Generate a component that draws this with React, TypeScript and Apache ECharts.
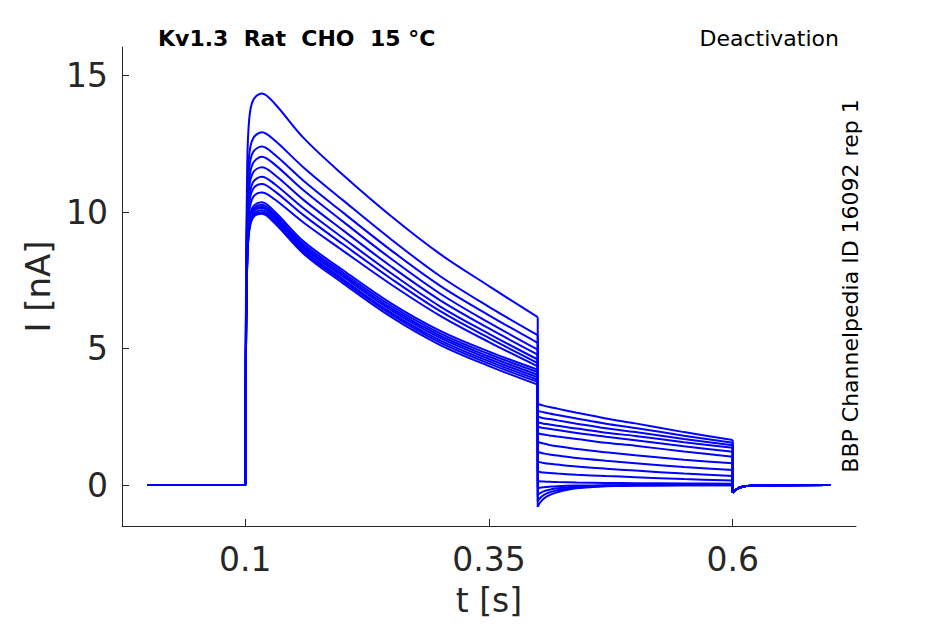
import React, { useEffect, useRef } from "react";
import * as echarts from "echarts";

// ---- data ----
const baselineTimes = [0, 0.1];
const baselineCurrents = [0, 0];

const activationTimes = [0.1006, 0.102, 0.104, 0.108, 0.117, 0.13, 0.16, 0.2, 0.25, 0.3, 0.35, 0.4];
const activationCurrents = [
  [6.5, 11.8, 13.4, 14.1, 14.35, 13.98, 12.71, 11.37, 9.84, 8.46, 7.29, 6.15],
  [5.9, 10.6, 12.1, 12.7, 12.93, 12.63, 11.63, 10.44, 8.99, 7.65, 6.53, 5.49],
  [5.6, 10.2, 11.6, 12.2, 12.4, 12.11, 11.14, 9.99, 8.59, 7.3, 6.22, 5.21],
  [5.4, 9.9, 11.2, 11.8, 12.03, 11.75, 10.79, 9.66, 8.28, 7.01, 5.95, 4.96],
  [5.2, 9.6, 10.9, 11.45, 11.64, 11.37, 10.44, 9.34, 8.0, 6.77, 5.74, 4.78],
  [5.1, 9.3, 10.5, 11.1, 11.3, 11.03, 10.13, 9.06, 7.75, 6.54, 5.54, 4.6],
  [5.0, 9.0, 10.3, 10.85, 11.03, 10.77, 9.88, 8.83, 7.55, 6.37, 5.39, 4.47],
  [4.8, 8.8, 10.0, 10.55, 10.72, 10.47, 9.61, 8.59, 7.34, 6.2, 5.24, 4.35],
  [4.7, 8.5, 9.7, 10.2, 10.36, 10.02, 8.92, 7.88, 6.65, 5.65, 4.89, 4.23],
  [4.6, 8.4, 9.6, 10.1, 10.27, 9.93, 8.83, 7.79, 6.56, 5.56, 4.8, 4.14],
  [4.6, 8.4, 9.5, 10.05, 10.2, 9.86, 8.75, 7.71, 6.47, 5.47, 4.71, 4.04],
  [4.6, 8.3, 9.5, 10.0, 10.15, 9.81, 8.69, 7.64, 6.4, 5.39, 4.62, 3.95],
  [4.5, 8.3, 9.4, 9.9, 10.07, 9.73, 8.61, 7.55, 6.31, 5.3, 4.53, 3.86],
  [4.5, 8.2, 9.35, 9.85, 10.0, 9.66, 8.54, 7.48, 6.24, 5.22, 4.45, 3.78],
  [4.5, 8.2, 9.3, 9.8, 9.94, 9.6, 8.47, 7.4, 6.15, 5.13, 4.36, 3.68],
];

const tailTimes = [0.4, 0.402, 0.406, 0.412, 0.42, 0.44, 0.47, 0.5, 0.55, 0.6];
const tailCurrents = [
  [2.98, 2.95, 2.91, 2.86, 2.8, 2.65, 2.44, 2.26, 1.94, 1.65],
  [2.73, 2.7, 2.67, 2.62, 2.57, 2.44, 2.25, 2.09, 1.81, 1.55],
  [2.51, 2.49, 2.45, 2.42, 2.37, 2.25, 2.08, 1.94, 1.69, 1.46],
  [2.3, 2.28, 2.25, 2.22, 2.17, 2.07, 1.92, 1.8, 1.57, 1.37],
  [2.14, 2.12, 2.09, 2.06, 2.02, 1.91, 1.77, 1.64, 1.42, 1.22],
  [1.9, 1.88, 1.85, 1.82, 1.78, 1.69, 1.55, 1.44, 1.23, 1.04],
  [1.59, 1.56, 1.52, 1.47, 1.42, 1.32, 1.2, 1.09, 0.93, 0.8],
  [1.22, 1.19, 1.16, 1.12, 1.08, 0.99, 0.89, 0.8, 0.66, 0.55],
  [0.86, 0.84, 0.81, 0.78, 0.75, 0.68, 0.6, 0.53, 0.42, 0.33],
  [0.49, 0.48, 0.46, 0.44, 0.42, 0.38, 0.33, 0.29, 0.22, 0.17],
  [0.15, 0.14, 0.13, 0.12, 0.11, 0.095, 0.08, 0.07, 0.06, 0.05],
  [-0.12, -0.1, -0.08, -0.06, -0.04, -0.02, -0.01, 0, 0, 0],
  [-0.37, -0.31, -0.23, -0.17, -0.12, -0.05, -0.02, -0.01, 0, 0],
  [-0.59, -0.49, -0.37, -0.27, -0.19, -0.09, -0.03, -0.015, -0.01, -0.01],
  [-0.8, -0.66, -0.5, -0.37, -0.26, -0.12, -0.04, -0.02, -0.01, -0.01],
];

const offTimes = [0.6, 0.602, 0.606, 0.61, 0.615, 0.63, 0.7];
const offCurrents = [-0.27, -0.2, -0.11, -0.06, -0.03, -0.005, 0];

const xTicks = [0.1, 0.35, 0.6];
const yTicks = [0, 5, 10, 15];

const titleText = "Kv1.3  Rat  CHO  15 \u00B0C";
const protocolText = "Deactivation";
const sourceText = "BBP Channelpedia ID 16092 rep 1";

const FONT = "DejaVu Sans";
const AXIS_COLOR = "#262626";
const TRACE_COLOR = "#0000ff";

export default function App() {
  const ref = useRef<HTMLDivElement>(null);

  useEffect(() => {
    if (!ref.current) return;
    const chart = echarts.init(ref.current, undefined, { renderer: "svg" });

    const series: any[] = [];
    activationCurrents.forEach((act, i) => {
      const tail = tailCurrents[i];
      const last = act.length - 1;
      // straight pieces: baseline + onset, step at 0.4 s, step at 0.6 s and the off relaxation
      const straight: any[] = [];
      baselineTimes.forEach((t, k) => straight.push([t, baselineCurrents[k]]));
      straight.push([activationTimes[0], act[0]]);
      straight.push(null);
      straight.push([activationTimes[last], act[last]]);
      straight.push([tailTimes[0], tail[0]]);
      straight.push(null);
      straight.push([tailTimes[tail.length - 1], tail[tail.length - 1]]);
      offTimes.forEach((t, k) => straight.push([t, offCurrents[k]]));

      // smooth pieces: activation/inactivation and tail currents
      const curved: any[] = [];
      activationTimes.forEach((t, k) => curved.push([t, act[k]]));
      curved.push(null);
      tailTimes.forEach((t, k) => curved.push([t, tail[k]]));

      const common = {
        type: "line",
        showSymbol: false,
        symbol: "none",
        connectNulls: false,
        lineStyle: { color: TRACE_COLOR, width: 2 },
        itemStyle: { color: TRACE_COLOR },
        silent: true,
      };
      series.push({ ...common, data: straight, smooth: false });
      series.push({ ...common, data: curved, smooth: 0.35 });
    });

    chart.setOption({
      animation: false,
      backgroundColor: "#ffffff",
      textStyle: { fontFamily: FONT },
      grid: { left: 122, right: 89, top: 47, bottom: 98, containLabel: false },
      xAxis: {
        type: "value",
        min: -0.0265,
        max: 0.7265,
        name: "t [s]",
        nameLocation: "middle",
        nameGap: 58,
        nameTextStyle: { fontSize: 33, color: AXIS_COLOR, fontFamily: FONT },
        axisLine: { show: true, onZero: false, lineStyle: { color: AXIS_COLOR, width: 1 } },
        axisTick: { show: true, inside: true, length: 7, customValues: xTicks, lineStyle: { color: AXIS_COLOR } },
        axisLabel: {
          customValues: xTicks,
          fontSize: 33,
          color: AXIS_COLOR,
          fontFamily: FONT,
          margin: 17,
          formatter: (v: number) => String(v),
        },
        splitLine: { show: false },
      },
      yAxis: {
        type: "value",
        min: -1.5,
        max: 16.05,
        name: "I [nA]",
        nameLocation: "middle",
        nameGap: 66,
        nameRotate: 90,
        nameTextStyle: { fontSize: 34, color: AXIS_COLOR, fontFamily: FONT },
        axisLine: { show: true, onZero: false, lineStyle: { color: AXIS_COLOR, width: 1 } },
        axisTick: { show: true, inside: true, length: 7, customValues: yTicks, lineStyle: { color: AXIS_COLOR } },
        axisLabel: {
          customValues: yTicks,
          fontSize: 33,
          color: AXIS_COLOR,
          fontFamily: FONT,
          margin: 14,
          formatter: (v: number) => String(v),
        },
        splitLine: { show: false },
      },
      graphic: [
        {
          type: "text",
          left: 158,
          top: 27,
          style: { text: titleText, font: `bold 22px "${FONT}"`, fill: "#000000" },
        },
        {
          type: "text",
          x: 839,
          y: 27,
          style: { text: protocolText, font: `22px "${FONT}"`, fill: "#000000", textAlign: "right", textVerticalAlign: "top" },
        },
        {
          type: "text",
          x: 861,
          y: 286,
          rotation: Math.PI / 2,
          style: { text: sourceText, font: `22px "${FONT}"`, fill: "#000000", textAlign: "center", textVerticalAlign: "bottom" },
        },
      ],
      series,
    });

    return () => chart.dispose();
  }, []);

  return <div ref={ref} style={{ position: "absolute", left: 0, top: 0, width: 945, height: 624 }} />;
}
